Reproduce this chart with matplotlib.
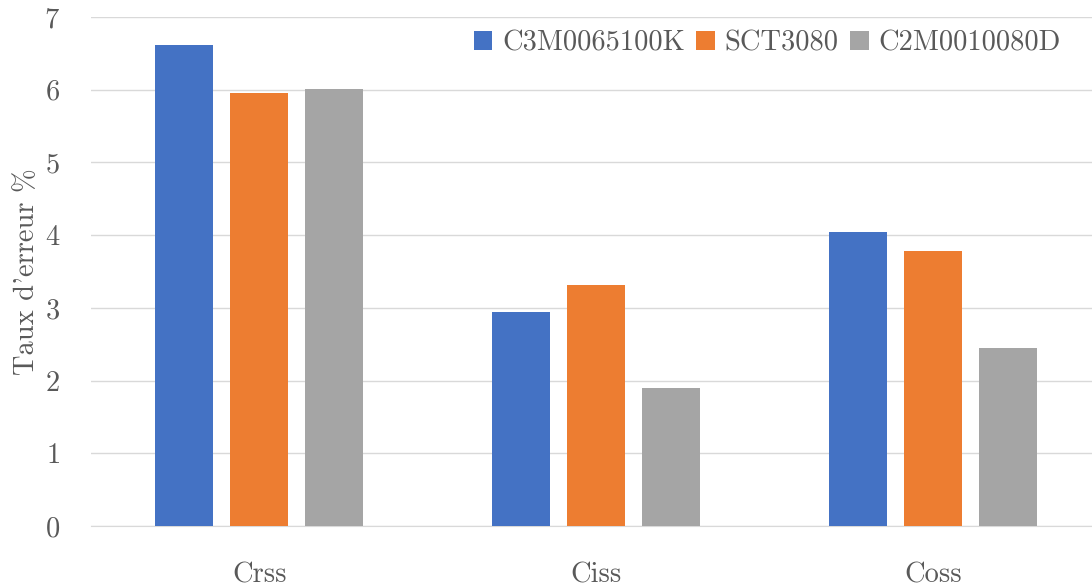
import numpy as np
import matplotlib
matplotlib.use("Agg")
import matplotlib.pyplot as plt

plt.rcParams['font.family'] = ['cmr10', 'DejaVu Sans']
plt.rcParams['axes.formatter.use_mathtext'] = True

categories = ['Crss', 'Ciss', 'Coss']
series_names = ['C3M0065100K', 'SCT3080', 'C2M0010080D']
c3m = [6.62, 2.94, 4.05]
sct = [5.95, 3.31, 3.78]
c2m = [6.01, 1.90, 2.45]
colors = ['#4472C4', '#ED7D31', '#A5A5A5']

fig = plt.figure(figsize=(10.92, 5.87), dpi=100)
ax = fig.add_axes([0.083, 0.104, 0.926, 0.867])

x = np.arange(len(categories))
w = 0.172
step = 0.222
for i, (vals, name) in enumerate(zip([c3m, sct, c2m], series_names)):
    ax.bar(x + (i - 1) * step, vals, width=w, color=colors[i], label=name, zorder=3)

ax.set_xlim(-0.5, 2.5)
ax.set_ylim(0, 7)
ax.set_yticks(range(0, 8))
ax.set_xticks(x)
ax.set_xticklabels(categories)
ax.yaxis.grid(True, color='#d9d9d9', linewidth=1, zorder=0)
for s in ['top', 'right', 'left']:
    ax.spines[s].set_visible(False)
ax.spines['bottom'].set_color('#d9d9d9')
ax.tick_params(axis='both', length=0, labelsize=20.5, colors='#595959')
ax.tick_params(axis='x', pad=26)
ax.tick_params(axis='y', pad=22)
ax.set_ylabel("Taux d'erreur %", fontsize=20.5, color='#595959', labelpad=3)

ax.legend(loc='upper right', bbox_to_anchor=(0.985, 1.025), ncol=3, frameon=False,
          fontsize=20.5, handlelength=0.65, handleheight=0.65, handletextpad=0.35,
          columnspacing=0.4, labelcolor='#595959')

fig.savefig('out.png', dpi=100)
